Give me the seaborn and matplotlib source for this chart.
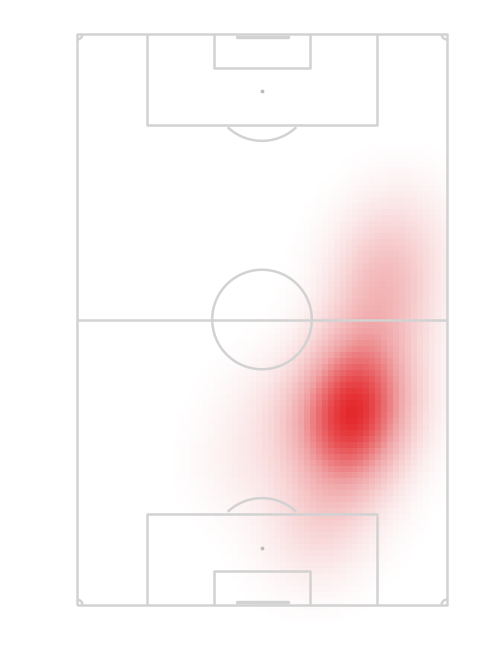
import numpy as np
import pandas as pd
import matplotlib.pyplot as plt
from matplotlib.colors import LinearSegmentedColormap
import seaborn as sns

# touch locations, pitch in percent (across = left->right, along = own goal at bottom -> top)
touch_across = [74, 76, 72, 78, 75, 73, 77, 79, 70, 74, 78, 74, 77, 71, 75, 72, 69, 80, 67, 82,
                80, 82, 84, 86, 88, 85, 81,
                66, 62, 68,
                52, 46]
touch_along = [36, 31, 30, 38, 34, 27, 42, 36, 33, 24, 30, 40, 45, 22, 29, 38, 28, 44, 34, 36,
               50, 54, 58, 62, 68, 52, 60,
               18, 10, 14,
               34, 24]

line_col = '#d2d2d2'
heat_cmap = LinearSegmentedColormap.from_list('heat', ['#ffffff', '#f0a6a8', '#e4292d'])

sns.set_style('white')
fig = plt.figure(figsize=(5, 6.5), dpi=100)
# pitch is 370 x 571 px, 0..100 in both directions
pad_x, pad_y = 4, 3
sx, sy = 3.7, 5.71
ax = fig.add_axes([(77 - pad_x * sx) / 500, (650 - 605 - pad_y * sy) / 650,
                   (100 + 2 * pad_x) * sx / 500, (100 + 2 * pad_y) * sy / 650])

# smooth the touches on a grid (metres, pitch 68 x 105), then draw the cells
edges_x = np.linspace(0, 100, 63)
edges_y = np.linspace(-pad_y, 100 + pad_y, 102)
cx = (edges_x[:-1] + edges_x[1:]) / 2
cy = (edges_y[:-1] + edges_y[1:]) / 2
gx, gy = np.meshgrid(cx, cy)
dens = np.zeros_like(gx)
bw = 6.8
for a, b in zip(touch_across, touch_along):
    dx = (gx - a) * 0.68
    dy = (gy - b) * 1.05
    dens += np.exp(-(dx ** 2 + dy ** 2) / (2 * bw ** 2))

grid = pd.DataFrame({'x': gx.ravel(), 'y': gy.ravel(), 'w': dens.ravel()})
sns.histplot(data=grid, x='x', y='y', weights='w', bins=[edges_x, edges_y],
             cmap=heat_cmap, thresh=dens.max() * 0.01, ax=ax, zorder=1)

# pitch markings
kw = dict(color=line_col, lw=1.8, zorder=3, solid_capstyle='butt')
ax.plot([0, 100, 100, 0, 0], [0, 0, 100, 100, 0], **kw)
ax.plot([0, 100], [50, 50], **kw)
for top in [False, True]:
    def vv(v):
        return 100 - v if top else v
    ax.plot([19, 19, 81, 81], [vv(0), vv(16), vv(16), vv(0)], **kw)
    ax.plot([37, 37, 63, 63], [vv(0), vv(6), vv(6), vv(0)], **kw)
    ax.scatter([50], [vv(10)], s=3, color='#bbbbbb', zorder=3)
    ax.plot([43.2, 57], [vv(0.5), vv(0.5)], color=line_col, lw=2.5, zorder=3)
    t = np.radians(np.linspace(46.5, 133.5, 60))
    ax.plot(50 + 9.15 * np.cos(t) / 0.68, vv(10 + 9.15 * np.sin(t) / 1.05), **kw)

t = np.radians(np.linspace(0, 360, 200))
ax.plot(50 + 9.15 * np.cos(t) / 0.68, 50 + 9.15 * np.sin(t) / 1.05, **kw)

# corner arcs
t = np.radians(np.linspace(0, 90, 20))
for cxn, cyn, sgx, sgy in [(0, 0, 1, 1), (100, 0, -1, 1), (0, 100, 1, -1), (100, 100, -1, -1)]:
    ax.plot(cxn + sgx * np.cos(t) / 0.68, cyn + sgy * np.sin(t) / 1.05, **kw)

ax.set_xlim(-pad_x, 100 + pad_x)
ax.set_ylim(-pad_y, 100 + pad_y)
ax.set_aspect('auto')
ax.axis('off')

plt.savefig('out.png', dpi=100)
